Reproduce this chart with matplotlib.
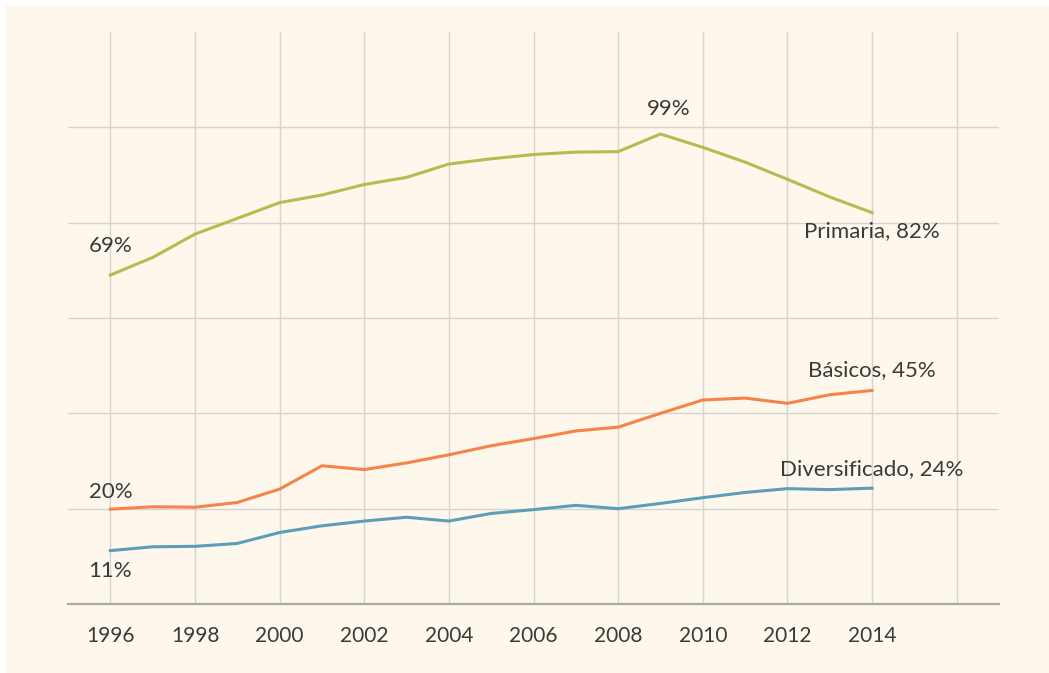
import matplotlib
matplotlib.use("Agg")
import matplotlib.pyplot as plt
from matplotlib.patches import Rectangle

# data (percent)
years = list(range(1996, 2015))
primaria = [69.0, 72.7, 77.6, 80.9, 84.2, 85.8, 88.0, 89.5, 92.3, 93.4,
            94.3, 94.8, 94.9, 98.6, 95.8, 92.7, 89.1, 85.4, 82.1]
basicos = [19.9, 20.4, 20.3, 21.3, 24.1, 29.0, 28.2, 29.6, 31.3, 33.2,
           34.7, 36.3, 37.1, 40.0, 42.8, 43.2, 42.1, 43.9, 44.8]
diversificado = [11.2, 12.0, 12.1, 12.7, 15.0, 16.4, 17.4, 18.2, 17.4, 19.0,
                 19.8, 20.7, 20.0, 21.1, 22.3, 23.4, 24.2, 24.0, 24.3]
xticks = list(range(1996, 2017, 2))
xlabels = [str(y) for y in range(1996, 2015, 2)] + [""]
yticks = [20, 40, 60, 80, 100]

bg = "#fdf7ec"
col_prim = "#b8bb50"
col_bas = "#f5834a"
col_div = "#5e9db8"
txt = "#3a3a3a"

plt.rcParams['font.family'] = ['Lato', 'DejaVu Sans']

fig = plt.figure(figsize=(10.49, 6.73), dpi=100, facecolor="white")
fig.patches.append(Rectangle((5 / 1049, 0), 1, 1 - 5 / 673, transform=fig.transFigure,
                             facecolor=bg, edgecolor="none", zorder=-10))
ax = fig.add_axes([68 / 1049, 1 - 604 / 673, (999 - 68) / 1049, (604 - 32) / 673])
ax.set_facecolor(bg)
ax.patch.set_alpha(0)

ax.set_xlim(1995, 2017)
ax.set_ylim(0, 120)
ax.set_xticks(xticks)
ax.set_xticklabels(xlabels, fontsize=15, color=txt)
ax.set_yticks(yticks)
ax.set_yticklabels([])
ax.tick_params(axis="both", length=0, pad=16)
ax.grid(True, color="#d6d4d0", linewidth=1.0, zorder=0)

for s in ["top", "right", "left"]:
    ax.spines[s].set_visible(False)
ax.spines["bottom"].set_color("#a9a9a9")
ax.spines["bottom"].set_linewidth(1.6)

ax.plot(years, primaria, color=col_prim, lw=2.2, zorder=3)
ax.plot(years, basicos, color=col_bas, lw=2.2, zorder=3)
ax.plot(years, diversificado, color=col_div, lw=2.2, zorder=3)

fs = 16
ax.text(1996, 75, "69%", ha="center", va="center", fontsize=fs, color=txt)
ax.text(2009.2, 103.8, "99%", ha="center", va="center", fontsize=fs, color=txt)
ax.text(2014, 78.2, "Primaria, 82%", ha="center", va="center", fontsize=fs, color=txt)
ax.text(2014, 49, "Básicos, 45%", ha="center", va="center", fontsize=fs, color=txt)
ax.text(2014, 28.2, "Diversificado, 24%", ha="center", va="center", fontsize=fs, color=txt)
ax.text(1996, 23.6, "20%", ha="center", va="center", fontsize=fs, color=txt)
ax.text(1996, 6.9, "11%", ha="center", va="center", fontsize=fs, color=txt)

fig.savefig("out.png", dpi=100, facecolor=fig.get_facecolor())
